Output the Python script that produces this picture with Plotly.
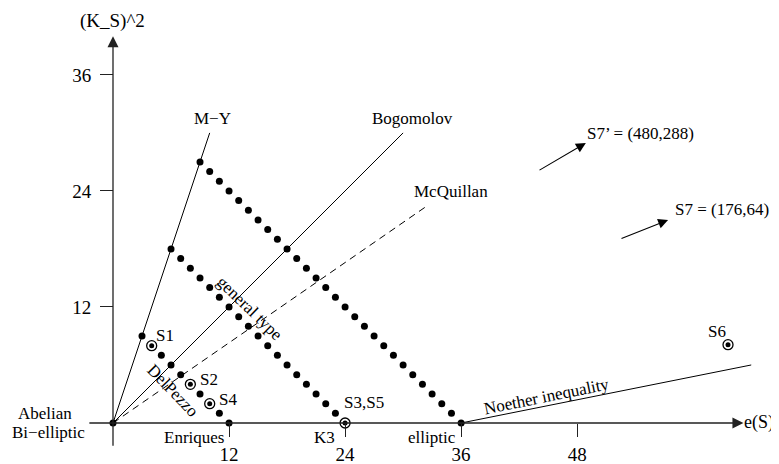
import plotly.graph_objects as go

# ---- data ----
# lattice dots on the lines K^2 + e = 12, 24, 36
line12_e = [3, 5, 6, 7, 9, 11, 12]
line12_k = [9, 7, 6, 5, 3, 1, 0]
line24_e = [6, 7, 8, 9, 10, 11, 12, 13, 14, 15, 16, 17, 18, 19, 20, 21, 22, 23]
line24_k = [18, 17, 16, 15, 14, 13, 12, 11, 10, 9, 8, 7, 6, 5, 4, 3, 2, 1]
line36_e = [9, 10, 11, 12, 13, 14, 15, 16, 17, 18, 19, 20, 21, 22, 23, 24, 25,
            26, 27, 28, 29, 30, 31, 32, 33, 34, 35, 36]
line36_k = [27, 26, 25, 24, 23, 22, 21, 20, 19, 18, 17, 16, 15, 14, 13, 12, 11,
            10, 9, 8, 7, 6, 5, 4, 3, 2, 1, 0]
origin_e = [0]
origin_k = [0]

# special surfaces (ringed points)
ring_names = ["S1", "S2", "S4", "S3,S5", "S6"]
ring_e = [4, 8, 10, 24, 63.6]
ring_k = [8, 4, 2, 0, 8.1]

# boundary lines
my_e = [0, 10];      my_k = [0, 30]          # Miyaoka-Yau
bog_e = [0, 30];     bog_k = [0, 30]         # Bogomolov
mcq_e = [0, 32.4];   mcq_k = [0, 22.4]       # McQuillan
noe_e = [36, 66];    noe_k = [0, 6]          # Noether inequality

x_ticks = [12, 24, 36, 48]
y_ticks = [12, 24, 36]

FONT = "Liberation Serif"
fig = go.Figure()

line_style = dict(color="black", width=1)
fig.add_trace(go.Scatter(x=my_e, y=my_k, mode="lines", line=line_style))
fig.add_trace(go.Scatter(x=bog_e, y=bog_k, mode="lines", line=line_style))
fig.add_trace(go.Scatter(x=mcq_e, y=mcq_k, mode="lines",
                         line=dict(color="black", width=1, dash="7px,5px")))
fig.add_trace(go.Scatter(x=noe_e, y=noe_k, mode="lines", line=line_style))

dot = dict(color="black", size=7)
for xs, ys in [(line12_e, line12_k), (line24_e, line24_k),
               (line36_e, line36_k), (origin_e, origin_k)]:
    fig.add_trace(go.Scatter(x=xs, y=ys, mode="markers", marker=dot))

fig.add_trace(go.Scatter(x=ring_e, y=ring_k, mode="markers",
                         marker=dict(symbol="circle-open", size=10, color="black",
                                     line=dict(color="black", width=1.3))))
fig.add_trace(go.Scatter(x=ring_e, y=ring_k, mode="markers",
                         marker=dict(color="black", size=5)))

ann = []
# axes with arrows
ann.append(dict(x=65.2, y=0, ax=-2.6, ay=0, xref="x", yref="y", axref="x", ayref="y",
                text="", showarrow=True, arrowhead=2, arrowsize=1.7, arrowwidth=1.3,
                arrowcolor="#222", standoff=0))
ann.append(dict(x=0, y=40.0, ax=0, ay=-2.5, xref="x", yref="y", axref="x", ayref="y",
                text="", showarrow=True, arrowhead=2, arrowsize=1.7, arrowwidth=1.3,
                arrowcolor="#222", standoff=0))
# S7 arrows
ann.append(dict(x=48.9, y=28.96, ax=43.95, ay=26.06, xref="x", yref="y", axref="x",
                ayref="y", text="", showarrow=True, arrowhead=2, arrowsize=1.8,
                arrowwidth=1.1, arrowcolor="black", standoff=0))
ann.append(dict(x=57.4, y=20.99, ax=52.43, ay=19.03, xref="x", yref="y", axref="x",
                ayref="y", text="", showarrow=True, arrowhead=2, arrowsize=1.8,
                arrowwidth=1.1, arrowcolor="black", standoff=0))


def label(x, y, t, size=17, angle=0, xanchor="center"):
    ann.append(dict(x=x, y=y, xref="x", yref="y", text=t, showarrow=False,
                    textangle=angle, xanchor=xanchor, yanchor="middle",
                    font=dict(family=FONT, size=size, color="black")))


label(-0.1, 41.6, "(K_S)^2", size=19)
label(65.0, 0.1, "e(S)", size=18, xanchor="left")
label(-7.08, 1.03, "Abelian", size=17)
label(-6.72, -1.03, "Bi−elliptic", size=17)
label(8.38, -1.45, "Enriques")
label(21.9, -1.45, "K3")
label(33.0, -1.45, "elliptic")
label(25.96, 2.07, "S3,S5")
label(5.38, 9.0, "S1")
label(9.93, 4.55, "S2")
label(11.9, 2.48, "S4")
label(62.46, 9.51, "S6")
label(10.24, 31.54, "M−Y")
label(31.02, 31.54, "Bogomolov")
label(34.95, 23.99, "McQuillan")
label(54.5, 29.99, "S7’ = (480,288)")
label(62.98, 22.03, "S7 = (176,64)")
label(44.8, 2.69, "Noether inequality", angle=-11.5)
label(14.17, 11.89, "general type", angle=44)
label(6.17, 3.34, "DelPezzo", angle=46)

# page has an 8px body margin, so the origin sits at (105, 415) inside the figure
SC = 9.67
OX, OY = 105, 415
W, H = 779, 464
x0 = -OX / SC
x1 = (W - OX) / SC
y0 = -(H - OY) / SC
y1 = OY / SC

fig.update_layout(
    width=W, height=H,
    margin=dict(l=0, r=0, t=0, b=0, pad=0),
    paper_bgcolor="white", plot_bgcolor="white",
    showlegend=False,
    annotations=ann,
    xaxis=dict(range=[x0, x1], domain=[0, 1], anchor="free", position=(H - OY) / H,
               showgrid=False, zeroline=False, showline=False,
               tickmode="array", tickvals=x_ticks, ticktext=[str(v) for v in x_ticks],
               ticks="outside", ticklen=13, tickwidth=1.2, tickcolor="#222",
               ticklabelstandoff=1,
               tickfont=dict(family=FONT, size=19, color="black"),
               fixedrange=True, automargin=False),
    yaxis=dict(range=[y0, y1], domain=[0, 1], anchor="free", position=OX / W,
               showgrid=False, zeroline=False, showline=False,
               tickmode="array", tickvals=y_ticks, ticktext=[str(v) for v in y_ticks],
               ticks="outside", ticklen=13, tickwidth=1.2, tickcolor="#222",
               ticklabelstandoff=5,
               tickfont=dict(family=FONT, size=19, color="black"),
               fixedrange=True, automargin=False),
)

fig.write_html("out.html")
